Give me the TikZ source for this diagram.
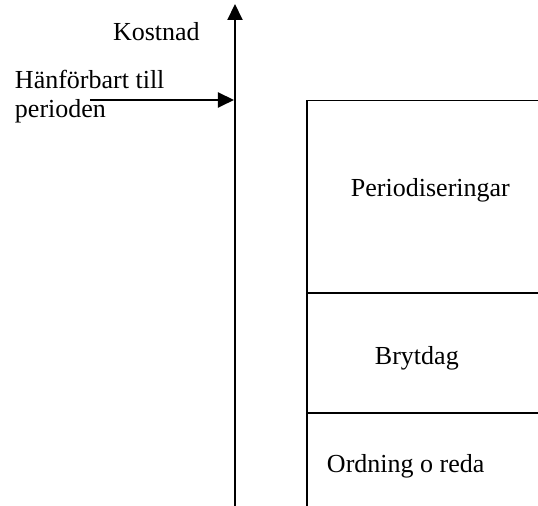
\documentclass[tikz,border=0pt]{standalone}
\usepackage{fontspec}
\setmainfont{Liberation Serif}
\usetikzlibrary{arrows.meta}
\tikzset{
  lbl/.style={inner sep=0pt, outer sep=0pt, anchor=base west, font=\fontsize{13}{14.5}\selectfont, align=left},
  axisline/.style={line width=1pt, -{Triangle[width=7.5pt,length=8pt]}},
  boxline/.style={line width=0.9pt},
}
\begin{document}
\begin{tikzpicture}[x=0.5pt,y=-0.5pt]
\useasboundingbox (0,0) rectangle (538,506);
% axis
\coordinate (axbot) at (235,510);
\coordinate (axtop) at (235,4);
\draw[axisline] (axbot) -- (axtop);
% horizontal arrow
\coordinate (hstart) at (90,100);
\coordinate (hend) at (234,100);
\draw[axisline] (hstart) -- (hend);
% box
\coordinate (bl) at (307,510);
\coordinate (tl) at (307,100.5);
\coordinate (tr) at (545,100.5);
\coordinate (m1l) at (307,293);
\coordinate (m1r) at (545,293);
\coordinate (m2l) at (307,413);
\coordinate (m2r) at (545,413);
\draw[boxline] (bl) -- (tl) -- (tr);
\draw[boxline] (m1l) -- (m1r);
\draw[boxline] (m2l) -- (m2r);
% labels
\node[lbl] (kostnad) at (113,41) {Kostnad};
\node[lbl] (hanf) at (15,118) {Hänförbart till\\perioden};
\node[lbl] (period) at (351,197) {Periodiseringar};
\node[lbl] (bryt) at (375,365) {Brytdag};
\node[lbl] (ordning) at (327,473) {Ordning o reda};
\end{tikzpicture}
\end{document}
